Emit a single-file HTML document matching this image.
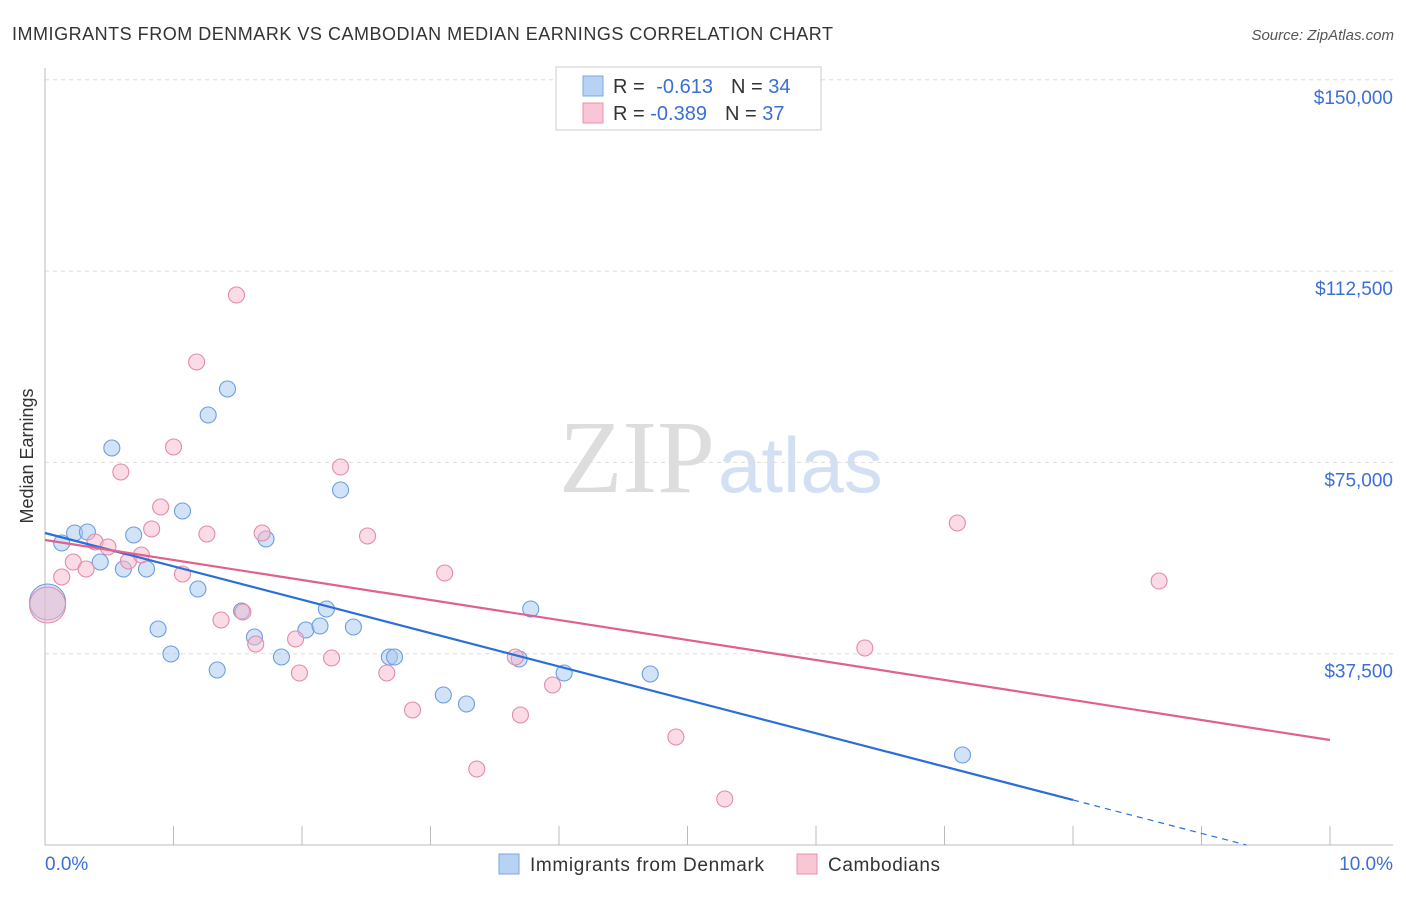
<!DOCTYPE html>
<html><head><meta charset="utf-8"><style>
body{margin:0;background:#fff;font-family:"Liberation Sans",sans-serif}
svg text{font-family:"Liberation Sans",sans-serif}
</style></head><body>
<svg id="c" width="1406" height="892">
<text x="12" y="40" font-size="18" fill="#333" textLength="821">IMMIGRANTS FROM DENMARK VS CAMBODIAN MEDIAN EARNINGS CORRELATION CHART</text>
<text x="1394" y="40" font-size="15" fill="#555" font-style="italic" text-anchor="end">Source: ZipAtlas.com</text>
<text x="33" y="456" font-size="18" fill="#333" text-anchor="middle" transform="rotate(-90 33 456)">Median Earnings</text>
<text x="715" y="492" font-size="104" fill="#ddd" text-anchor="end" font-family="Liberation Serif" style="font-family:'Liberation Serif',serif">ZIP</text>
<text x="718" y="492" font-size="78" fill="#d3e0f3">atlas</text>
<g id="grid"></g><g id="marks"></g>
<g>
<rect x="556" y="67" width="265" height="63" fill="#fff" stroke="#ccc"/>
<rect x="583" y="76" width="20" height="20" fill="#b8d2f4" stroke="#7aa8e0"/>
<rect x="583" y="103" width="20" height="20" fill="#f9c6d6" stroke="#e890b0"/>
<text x="613" y="93" font-size="20" fill="#333">R = <tspan fill="#3a6fd8" dx="6">-0.613</tspan><tspan dx="18">N = </tspan><tspan fill="#3a6fd8">34</tspan></text>
<text x="613" y="120" font-size="20" fill="#333">R = <tspan fill="#3a6fd8">-0.389</tspan><tspan dx="18">N = </tspan><tspan fill="#3a6fd8">37</tspan></text>
</g>
<g>
<rect x="499" y="854" width="20" height="20" fill="#b8d2f4" stroke="#7aa8e0"/>
<text x="530" y="871" font-size="19" fill="#333" textLength="234">Immigrants from Denmark</text>
<rect x="797" y="854" width="20" height="20" fill="#f9c6d6" stroke="#e890b0"/>
<text x="828" y="871" font-size="19" fill="#333" textLength="112">Cambodians</text>
</g>
</svg>
<script>
const yTicks=[37500,75000,112500,150000];
const yTickLabels=["$37,500","$75,000","$112,500","$150,000"];
const xTickLabels=["0.0%","10.0%"];
const blueX=[0.02,0.13,0.23,0.33,0.43,0.52,0.61,0.69,0.79,0.88,0.98,1.07,1.19,1.27,1.34,1.42,1.53,1.63,1.84,2.03,2.14,2.19,2.40,2.30,1.72,2.68,2.72,3.10,3.28,3.69,3.78,4.04,4.71,7.14];
const blueY=[47635,59201,61161,61357,55476,77824,54104,60769,54104,42342,37441,65474,50184,84293,34305,89390,45871,40774,36854,42146,42931,46263,42735,69591,59985,36854,36854,29404,27640,36462,46263,33717,33521,17643];
const pinkX=[0.02,0.13,0.22,0.32,0.39,0.49,0.59,0.65,0.75,0.83,0.90,1.00,1.07,1.18,1.26,1.37,1.49,1.54,1.64,1.69,1.95,1.98,2.23,2.30,2.51,2.66,2.86,3.11,3.36,3.66,3.70,3.95,4.91,5.29,6.38,7.10,8.67];
const pinkY=[47047,52536,55476,54104,59397,58417,73119,55672,56849,61945,66258,78020,53124,94682,60965,44107,107817,45675,39402,61161,40382,33717,36658,74099,60573,33717,26464,53320,14898,36854,25484,31365,21171,9017,38618,63121,51752];
const blueTrend=[61161,-6542];
const pinkTrend=[59790,-3921];
const X=v=>45+v*128.5, Y=v=>845-v/196.03;
const NS="http://www.w3.org/2000/svg";
function mk(p,t,a){const e=document.createElementNS(NS,t);for(const k in a)e.setAttribute(k,a[k]);p.appendChild(e);return e;}
const g=document.getElementById('grid'),m=document.getElementById('marks');
yTicks.forEach((t,i)=>{
 const l=mk(g,'line',{x1:45,x2:1393,y1:Y(t),y2:Y(t),stroke:'#ddd','stroke-dasharray':'4,4'});
 
 
 const tx=mk(g,'text',{x:1393,y:Y(t)+24,'font-size':19,fill:'#3a6fd8','text-anchor':'end'});
 tx.textContent=yTickLabels[i];
 
 
});
mk(g,'line',{x1:45,x2:45,y1:68,y2:845,stroke:'#bbb'});
mk(g,'line',{x1:45,x2:1393,y1:845,y2:845,stroke:'#bbb'});
for(let i=0;i<=10;i++){const tk=mk(g,'line',{x1:X(i),x2:X(i),y1:826,y2:845,stroke:'#bbb'});}
[[0,'start',45],[1,'end',1393]].forEach(([i,a,x])=>{const t=mk(g,'text',{x:x,y:870,'font-size':19,fill:'#3a6fd8','text-anchor':a});t.textContent=xTickLabels[i];});
function dots(xs,ys,fill,stroke,name){xs.forEach((x,i)=>{const c=mk(m,'circle',{cx:X(x),cy:Y(ys[i]),r:i==0?18:8,fill:fill,'fill-opacity':0.5,stroke:stroke,'stroke-width':1.1});});}
dots(blueX,blueY,'#a8c8f0','#6a9ee0','blue-point');
dots(pinkX,pinkY,'#f7b8cc','#e38aab','pink-point');
const bz=-blueTrend[0]/blueTrend[1];
let l=mk(m,'line',{x1:X(0),y1:Y(blueTrend[0]),x2:X(8),y2:Y(blueTrend[0]+8*blueTrend[1]),stroke:'#2a6fd8','stroke-width':2.2});

l=mk(m,'line',{x1:X(8),y1:Y(blueTrend[0]+8*blueTrend[1]),x2:X(bz),y2:Y(0),stroke:'#2a6fd8','stroke-width':1.2,'stroke-dasharray':'6,5'});

l=mk(m,'line',{x1:X(0),y1:Y(pinkTrend[0]),x2:X(10),y2:Y(pinkTrend[0]+10*pinkTrend[1]),stroke:'#e0608f','stroke-width':2.2});

</script>
</body></html>
